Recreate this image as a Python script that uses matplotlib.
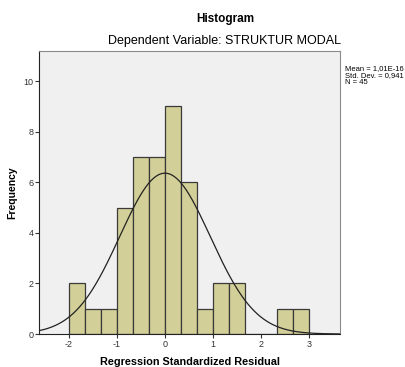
import numpy as np
import matplotlib.pyplot as plt

# histogram of regression standardized residuals (SPSS style)
bin_edges = [-2, -5/3, -4/3, -1, -2/3, -1/3, 0, 1/3, 2/3, 1, 4/3, 5/3, 2, 7/3, 8/3, 3]
counts = [2, 1, 1, 5, 7, 7, 9, 6, 1, 2, 2, 0, 0, 1, 1]
mean = 1.01e-16
std_dev = 0.941
n = 45
x_ticks = [-2, -1, 0, 1, 2, 3]
y_ticks = [0, 2, 4, 6, 8, 10]

plt.rcParams['font.family'] = ['Liberation Sans', 'DejaVu Sans']

fig = plt.figure(figsize=(4.06, 3.67), dpi=100)
ax = fig.add_axes([39/406, 1 - 334/367, (340-39)/406, (334-51)/367])
ax.set_facecolor('#f0f0f0')

edges = np.array(bin_edges)
widths = np.diff(edges)
ax.bar(edges[:-1], counts, width=widths, align='edge',
       color='#d3cf98', edgecolor='#3a3a3a', linewidth=0.9)

# normal curve scaled to counts
xs = np.linspace(-2.62, 3.64, 400)
bw = widths[0]
pdf = np.exp(-0.5 * ((xs - mean) / std_dev) ** 2) / (std_dev * np.sqrt(2 * np.pi))
ax.plot(xs, n * bw * pdf, color='#222222', linewidth=0.9)

ax.set_xlim(-2.62, 3.64)
ax.set_ylim(0, 11.19)
ax.set_xticks(x_ticks)
ax.set_yticks(y_ticks)
ax.set_xticklabels([str(t) for t in x_ticks])
ax.tick_params(labelsize=6.5, length=3, width=0.8, pad=1, colors='#333333')
for side in ['top', 'right']:
    ax.spines[side].set_color('#8a8a8a')
for side in ['left', 'bottom']:
    ax.spines[side].set_color('#222222')

ax.set_xlabel('Regression Standardized Residual', fontsize=7.8, fontweight='bold')
ax.xaxis.set_label_coords(0.5, -0.099)
ax.xaxis.label.set_va('center')
ax.set_ylabel('Frequency', fontsize=7.5, fontweight='bold')
ax.yaxis.set_label_coords(-0.09, 0.5)
ax.yaxis.label.set_va('center')

fig.text(225/406, 1 - 19/367, 'Histogram', ha='center', va='center',
         fontsize=8.5, fontweight='bold')
fig.text(225/406, 1 - 41/367, 'Dependent Variable: STRUKTUR MODAL',
         ha='center', va='center', fontsize=9)

fig.text(345/406, 1 - 65/367, 'Mean = 1,01E-16\nStd. Dev. = 0,941\nN = 45',
         ha='left', va='top', fontsize=5.5, linespacing=1.0)

fig.savefig('out.png', dpi=100)
